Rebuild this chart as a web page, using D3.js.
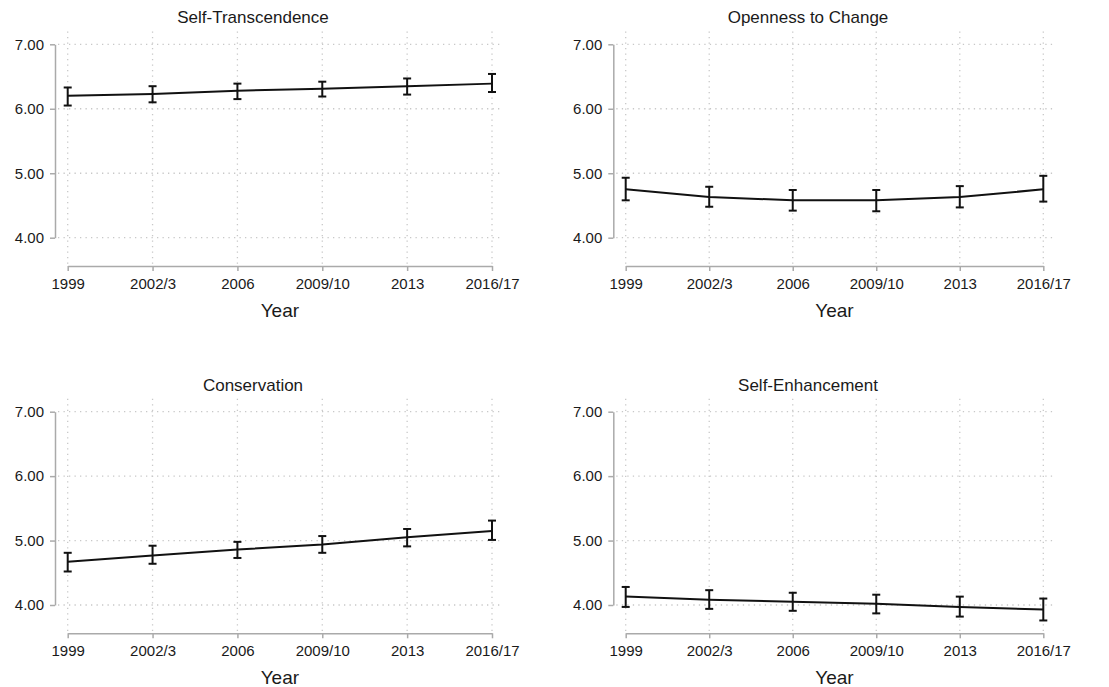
<!DOCTYPE html>
<html>
<head>
<meta charset="utf-8">
<script src="https://cdn.jsdelivr.net/npm/d3@7"></script>
<style>
  html, body { margin: 0; padding: 0; background: #fff; }
  svg { display: block; font-family: "Liberation Sans", Arial, Helvetica, sans-serif; }
</style>
</head>
<body>
<svg id="chart" width="1109" height="687"></svg>
<script>
// Survey waves (x categories)
const years = ["1999", "2002/3", "2006", "2009/10", "2013", "2016/17"];
const yTicks = [4, 5, 6, 7];

// Mean value scores with 95% confidence limits per wave
const selfTranscendence      = [6.20, 6.23, 6.28, 6.31, 6.35, 6.39];
const selfTranscendenceLow   = [6.05, 6.10, 6.15, 6.19, 6.22, 6.26];
const selfTranscendenceHigh  = [6.33, 6.35, 6.39, 6.42, 6.47, 6.54];

const opennessToChange       = [4.75, 4.63, 4.58, 4.58, 4.63, 4.75];
const opennessToChangeLow    = [4.58, 4.48, 4.42, 4.41, 4.47, 4.56];
const opennessToChangeHigh   = [4.93, 4.79, 4.74, 4.74, 4.80, 4.96];

const conservation           = [4.67, 4.77, 4.86, 4.94, 5.05, 5.15];
const conservationLow        = [4.52, 4.64, 4.73, 4.81, 4.91, 5.01];
const conservationHigh       = [4.81, 4.92, 4.98, 5.07, 5.18, 5.31];

const selfEnhancement        = [4.13, 4.08, 4.05, 4.02, 3.97, 3.93];
const selfEnhancementLow     = [3.97, 3.94, 3.91, 3.87, 3.82, 3.76];
const selfEnhancementHigh    = [4.28, 4.23, 4.19, 4.16, 4.13, 4.10];

const panelTitles = ["Self-Transcendence", "Openness to Change", "Conservation", "Self-Enhancement"];

// Panel layout (pixel frames)
const frames = [
  { axisX: 55,    x0: 67.7,  x1: 492,    gridRight: 503,  yTop: 44.3,  yBot: 237.7, axisY: 266,   titleX: 253, titleY: 23 },
  { axisX: 613.3, x0: 625.7, x1: 1043.3, gridRight: 1053, yTop: 44.3,  yBot: 237.7, axisY: 266,   titleX: 808, titleY: 23 },
  { axisX: 55,    x0: 67.7,  x1: 492,    gridRight: 503,  yTop: 411.7, yBot: 605,   axisY: 633.3, titleX: 253, titleY: 390.7 },
  { axisX: 613.3, x0: 625.7, x1: 1043.3, gridRight: 1053, yTop: 411.7, yBot: 605,   axisY: 633.3, titleX: 808, titleY: 390.7 }
];

const series = [
  { mean: selfTranscendence, lo: selfTranscendenceLow, hi: selfTranscendenceHigh },
  { mean: opennessToChange,  lo: opennessToChangeLow,  hi: opennessToChangeHigh },
  { mean: conservation,      lo: conservationLow,      hi: conservationHigh },
  { mean: selfEnhancement,   lo: selfEnhancementLow,   hi: selfEnhancementHigh }
];

const svg = d3.select("#chart");
const axisColor = "#aaaaaa";
const textColor = "#1a1a1a";

frames.forEach((f, i) => {
  const s = series[i];
  const g = svg.append("g");

  const x = d3.scalePoint().domain(years).range([f.x0, f.x1]).padding(0);
  const y = d3.scaleLinear().domain([4, 7]).range([f.yBot, f.yTop]);

  // dotted grid
  g.append("g").selectAll("line").data(yTicks).join("line")
    .attr("x1", f.axisX + 3).attr("x2", f.gridRight)
    .attr("y1", d => y(d)).attr("y2", d => y(d))
    .attr("stroke", "#c8c8c8").attr("stroke-width", 1.3)
    .attr("stroke-dasharray", "1.3,4.2");
  g.append("g").selectAll("line").data(years).join("line")
    .attr("x1", d => x(d)).attr("x2", d => x(d))
    .attr("y1", y(7.2)).attr("y2", f.axisY - 1)
    .attr("stroke", "#c8c8c8").attr("stroke-width", 1.3)
    .attr("stroke-dasharray", "1.3,4.2");

  // y axis
  const ya = g.append("g").attr("transform", `translate(${f.axisX},0)`)
    .call(d3.axisLeft(y).tickValues(yTicks).tickFormat(d3.format(".2f")).tickSize(5).tickSizeOuter(0).tickPadding(6));
  // x axis
  const xa = g.append("g").attr("transform", `translate(0,${f.axisY})`)
    .call(d3.axisBottom(x).tickSize(5).tickSizeOuter(0).tickPadding(7));

  [ya, xa].forEach(a => {
    a.selectAll("path.domain, .tick line").attr("stroke", axisColor).attr("stroke-width", 1.5);
    a.selectAll("text").attr("fill", textColor).attr("font-size", 15)
      .attr("font-family", "'Liberation Sans', Arial, sans-serif");
  });

  // title
  g.append("text").attr("x", f.titleX).attr("y", f.titleY)
    .attr("text-anchor", "middle").attr("font-size", 17).attr("fill", textColor)
    .text(panelTitles[i]);

  // x axis title
  g.append("text").attr("x", (f.x0 + f.x1) / 2).attr("y", f.axisY + 51)
    .attr("text-anchor", "middle").attr("font-size", 19).attr("fill", textColor)
    .text("Year");

  // mean line
  const pts = years.map((yr, k) => ({ yr, m: s.mean[k], lo: s.lo[k], hi: s.hi[k] }));
  g.append("path").datum(pts)
    .attr("d", d3.line().x(d => x(d.yr)).y(d => y(d.m)))
    .attr("fill", "none").attr("stroke", "#111").attr("stroke-width", 2);

  // confidence interval bars
  const cap = 4;
  const eb = g.append("g").attr("stroke", "#111").attr("stroke-width", 2);
  eb.selectAll("line.v").data(pts).join("line").attr("class", "v")
    .attr("x1", d => x(d.yr)).attr("x2", d => x(d.yr))
    .attr("y1", d => y(d.lo)).attr("y2", d => y(d.hi));
  eb.selectAll("line.t").data(pts).join("line").attr("class", "t")
    .attr("x1", d => x(d.yr) - cap).attr("x2", d => x(d.yr) + cap)
    .attr("y1", d => y(d.hi)).attr("y2", d => y(d.hi));
  eb.selectAll("line.b").data(pts).join("line").attr("class", "b")
    .attr("x1", d => x(d.yr) - cap).attr("x2", d => x(d.yr) + cap)
    .attr("y1", d => y(d.lo)).attr("y2", d => y(d.lo));
});
</script>
</body>
</html>
